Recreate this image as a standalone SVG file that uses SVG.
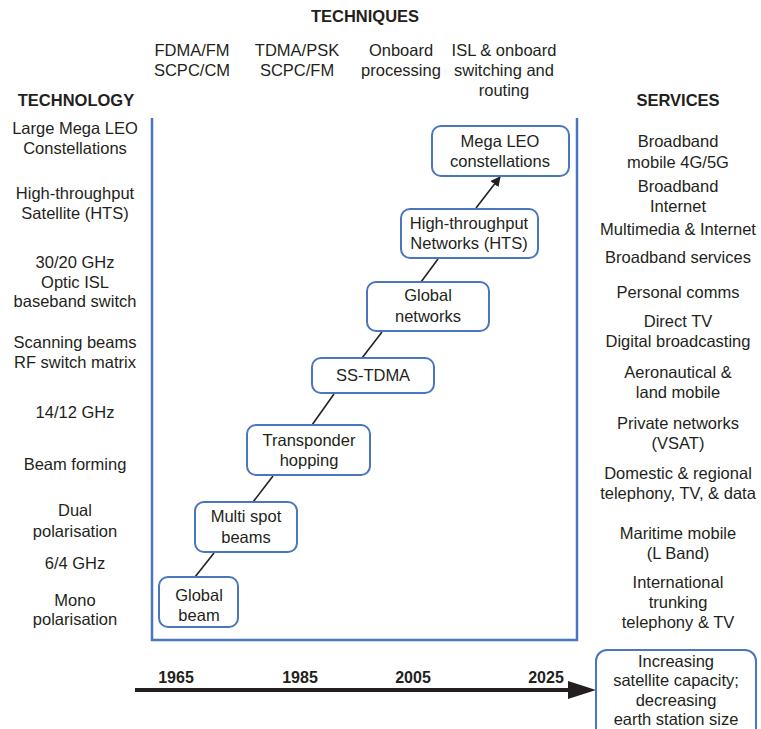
<svg xmlns="http://www.w3.org/2000/svg" width="761" height="729" viewBox="0 0 761 729">
<defs>
<style>
text{font-family:"Liberation Sans",Arial,sans-serif;font-size:16.5px;fill:#231f20;text-anchor:middle}
.b{font-weight:bold}
.y{font-weight:bold;font-size:16px}
.box{fill:#fff;stroke:#4a75bf;stroke-width:2}
.frame{fill:none;stroke:#4a75bf;stroke-width:2.5}
.conn{stroke:#231f20;stroke-width:1.6;fill:none}
</style>
<marker id="ah" markerWidth="10" markerHeight="10" refX="9" refY="5" orient="auto" markerUnits="userSpaceOnUse" viewBox="0 0 10 10">
<path d="M0,0 L10,5 L0,10 z" fill="#231f20"/>
</marker>
</defs>
<rect width="761" height="729" fill="#fff"/>

<g id="headers">
<text class="b" x="365" y="22">TECHNIQUES</text>
<text class="b" x="76" y="106">TECHNOLOGY</text>
<text class="b" x="678" y="106">SERVICES</text>
</g>

<g id="techniques">
<text x="192" y="56">FDMA/FM</text><text x="192" y="76">SCPC/CM</text>
<text x="297" y="56">TDMA/PSK</text><text x="297" y="76">SCPC/FM</text>
<text x="401" y="56">Onboard</text><text x="401" y="76">processing</text>
<text x="504" y="56">ISL &amp; onboard</text><text x="504" y="76">switching and</text><text x="504" y="96">routing</text>
</g>

<g id="technology">
<text x="75" y="134">Large Mega LEO</text><text x="75" y="154">Constellations</text>
<text x="75" y="199">High-throughput</text><text x="75" y="219">Satellite (HTS)</text>
<text x="75" y="268">30/20 GHz</text><text x="75" y="288">Optic ISL</text><text x="75" y="307">baseband switch</text>
<text x="75" y="348">Scanning beams</text><text x="75" y="368">RF switch matrix</text>
<text x="75" y="418">14/12 GHz</text>
<text x="75" y="470">Beam forming</text>
<text x="75" y="516">Dual</text><text x="75" y="537">polarisation</text>
<text x="75" y="569">6/4 GHz</text>
<text x="75" y="606">Mono</text><text x="75" y="625">polarisation</text>
</g>

<g id="services">
<text x="678" y="147">Broadband</text><text x="678" y="168">mobile 4G/5G</text>
<text x="678" y="192">Broadband</text><text x="678" y="212">Internet</text>
<text x="678" y="235">Multimedia &amp; Internet</text>
<text x="678" y="263">Broadband services</text>
<text x="678" y="298">Personal comms</text>
<text x="678" y="327">Direct TV</text><text x="678" y="347">Digital broadcasting</text>
<text x="678" y="378">Aeronautical &amp;</text><text x="678" y="398">land mobile</text>
<text x="678" y="429">Private networks</text><text x="678" y="449">(VSAT)</text>
<text x="678" y="479">Domestic &amp; regional</text><text x="678" y="499">telephony, TV, &amp; data</text>
<text x="678" y="539">Maritime mobile</text><text x="678" y="559">(L Band)</text>
<text x="678" y="588">International</text><text x="678" y="608">trunking</text><text x="678" y="628">telephony &amp; TV</text>
</g>

<path id="frame" class="frame" d="M152,118 V640 H577 V118"/>

<g id="connectors">
<line class="conn" x1="195" y1="577" x2="214" y2="553"/>
<line class="conn" x1="253" y1="502" x2="273" y2="476"/>
<line class="conn" x1="312" y1="425" x2="334" y2="394"/>
<line class="conn" x1="362" y1="358" x2="382" y2="332"/>
<line class="conn" x1="421" y1="282" x2="438" y2="259"/>
<line class="conn" x1="476" y1="208" x2="500" y2="177" marker-end="url(#ah)"/>
<line x1="135" y1="690" x2="575" y2="690" stroke="#231f20" stroke-width="4"/>
<path d="M568,681 L596,690 L568,699 z" fill="#231f20"/>
</g>

<g id="years">
<text class="y" x="176" y="683">1965</text>
<text class="y" x="300" y="683">1985</text>
<text class="y" x="413" y="683">2005</text>
<text class="y" x="546" y="683">2025</text>
</g>

<g id="n-mega-leo"><rect class="box" x="432" y="126" width="137" height="50" rx="9"/>
<text x="500" y="147">Mega LEO</text><text x="500" y="167">constellations</text></g>

<g id="n-hts"><rect class="box" x="401" y="209" width="137" height="49" rx="9"/>
<text x="469" y="229">High-throughput</text><text x="469" y="249">Networks (HTS)</text></g>

<g id="n-global-networks"><rect class="box" x="367" y="282" width="122" height="49" rx="9"/>
<text x="428" y="301">Global</text><text x="428" y="322">networks</text></g>

<g id="n-ss-tdma"><rect class="box" x="312" y="358" width="122" height="35" rx="9"/>
<text x="373" y="381">SS-TDMA</text></g>

<g id="n-transponder"><rect class="box" x="247" y="425" width="123" height="50" rx="9"/>
<text x="309" y="446">Transponder</text><text x="309" y="466">hopping</text></g>

<g id="n-multispot"><rect class="box" x="195" y="502" width="102" height="50" rx="9"/>
<text x="246" y="522">Multi spot</text><text x="246" y="543">beams</text></g>

<g id="n-global-beam"><rect class="box" x="159" y="577" width="79" height="50" rx="9"/>
<text x="199" y="601">Global</text><text x="199" y="621">beam</text></g>

<g id="n-increasing"><rect class="box" x="596" y="650" width="160" height="90" rx="11"/>
<text x="676" y="667">Increasing</text><text x="676" y="686">satellite capacity;</text><text x="676" y="706">decreasing</text><text x="676" y="725">earth station size</text></g>
</svg>
